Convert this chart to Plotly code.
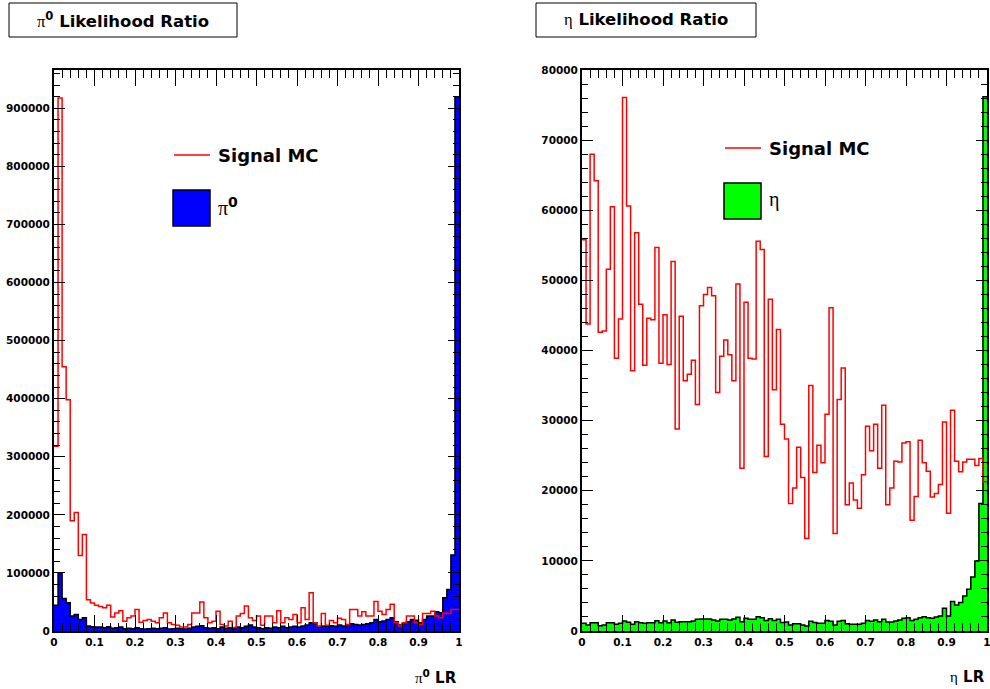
import numpy as np
import plotly.graph_objects as go

# 100 equal-width bins of the likelihood ratio, 0..1
bin_edges = np.linspace(0.0, 1.0, 101)

# pi0 likelihood ratio: signal MC (outline) and pi0 sample (filled)
signal_pi0 = [
    318000, 918000, 455000, 398000, 190000, 204000, 130000, 166000, 54000, 48000,
    44500, 42000, 40000, 44500, 24000, 31000, 35000, 17000, 23000, 26000,
    37000, 15000, 18000, 20000, 17000, 14000, 23000, 31000, 14000, 11000,
    10000, 7000, 7000, 11000, 31000, 31000, 50000, 23000, 14000, 17000,
    34000, 11000, 8500, 17000, 6000, 26000, 30000, 43000, 23000, 18000,
    26000, 10000, 26000, 26000, 14000, 35000, 14000, 23000, 20000, 28500,
    14000, 40000, 20000, 66000, 14000, 8500, 30000, 10000, 18000, 14000,
    22000, 20000, 11000, 37000, 37000, 26000, 33000, 26000, 26000, 51000,
    34000, 28500, 37000, 46000, 14000, 8500, 14000, 26000, 26000, 14000,
    11000, 30000, 30000, 34000, 26000, 23000, 31000, 30000, 37000, 37000,
]
pi0_sample = [
    44500, 100000, 56000, 48500, 26000, 28500, 20000, 23000, 8500, 7400,
    6900, 6900, 5700, 7400, 4600, 5700, 6900, 4000, 4600, 4000,
    5700, 4000, 3400, 4000, 4600, 4000, 4600, 5700, 3400, 4000,
    4600, 4000, 3400, 4600, 6900, 8000, 9100, 5700, 4600, 5700,
    4000, 6900, 4600, 5700, 4000, 6900, 5700, 8000, 10300, 6900,
    5700, 4000, 5700, 4600, 6900, 5700, 8000, 5700, 6900, 8000,
    6900, 8600, 10300, 14300, 12600, 6900, 8600, 8000, 9100, 8000,
    10300, 8600, 9100, 12600, 11400, 10300, 11400, 12600, 14300, 20000,
    16000, 17100, 20000, 22800, 16000, 10300, 12600, 16000, 20000, 18300,
    14300, 20000, 25700, 25700, 33100, 31400, 57100, 71400, 131000, 920000,
]

# eta likelihood ratio: signal MC (outline) and eta sample (filled)
signal_eta = [
    55800, 43800, 68000, 64200, 42600, 42800, 51600, 60500, 38900, 44500,
    76100, 60600, 37100, 56800, 46600, 37900, 44600, 44400, 54700, 38200,
    45100, 38000, 52700, 28800, 44900, 35700, 36600, 38600, 32300, 46400,
    48000, 49000, 47800, 34000, 39200, 41500, 39400, 35700, 49500, 23200,
    46900, 38900, 38800, 55600, 54400, 24900, 47300, 34400, 43000, 29500,
    27400, 18200, 20400, 26200, 21900, 13200, 35000, 22600, 26500, 24000,
    30900, 46100, 13900, 33000, 37500, 18000, 21100, 18700, 17500, 22300,
    29200, 25700, 29500, 23200, 32200, 18000, 20400, 24200, 24100, 26800,
    27000, 15800, 19200, 27200, 24000, 22800, 19100, 19600, 20900, 29800,
    16800, 31500, 24200, 22700, 24100, 24500, 24500, 23600, 24600, 21300,
]
eta_sample = [
    1095, 857, 1190, 1190, 762, 857, 1190, 1190, 952, 1095,
    1429, 1238, 952, 1333, 1190, 1095, 1190, 1190, 1476, 1190,
    1429, 1190, 1571, 1238, 1333, 1333, 1333, 1429, 1667, 1714,
    1714, 1714, 1571, 1429, 1667, 1667, 1571, 1714, 1952, 1333,
    1810, 1667, 1667, 2048, 1900, 1500, 1760, 1500, 1670, 1200,
    1300, 860, 1050, 1050, 860, 710, 1400, 1200, 1100, 1100,
    1500, 1400, 860, 1400, 1500, 1050, 950, 950, 950, 1100,
    1500, 1400, 1570, 1330, 1670, 1290, 1290, 1430, 1570, 1810,
    1900, 1500, 1670, 1900, 2050, 1900, 1810, 2000, 2140, 3240,
    2140, 4190, 3710, 4050, 5000, 5950, 7710, 10000, 18200, 76200,
]

W, H = 990, 689


def fx(p):
    """pixel column -> paper x"""
    return p / W


def fy(p):
    """pixel row -> paper y"""
    return 1 - p / H


def step(values, xa, ya, color, fill=None, width=1.5):
    y = list(values) + [values[-1]]
    return go.Scatter(
        x=bin_edges, y=y, mode="lines",
        line=dict(shape="hv", color=color, width=width),
        fill="tozeroy" if fill else "none", fillcolor=fill,
        xaxis=xa, yaxis=ya, showlegend=False, hoverinfo="skip",
    )


fig = go.Figure()
fig.add_trace(step(pi0_sample, "x", "y", "black", fill="#0000ff"))
fig.add_trace(step(signal_pi0, "x", "y", "#ff0000"))
fig.add_trace(step(eta_sample, "x2", "y2", "black", fill="#00ff00"))
fig.add_trace(step(signal_eta, "x2", "y2", "#ff0000"))

tick_font = dict(family="DejaVu Sans", size=10.5, color="black", weight="bold")
frame = dict(showline=True, linewidth=2, linecolor="black", mirror="ticks",
             showgrid=False, zeroline=False, ticks="inside", tickcolor="black",
             tickwidth=1, tickfont=tick_font, automargin=False,
             ticklabeloverflow="allow")


def xaxis(domain, anchor):
    return dict(domain=domain, anchor=anchor, range=[0, 1], tick0=0, dtick=0.1,
                ticklen=16,
                minor=dict(dtick=0.02, ticks="inside", ticklen=8,
                           tickcolor="black", tickwidth=1),
                **frame)


def yaxis(top, step_major, step_minor, anchor):
    return dict(domain=[fy(631), fy(70)], anchor=anchor, range=[0, top],
                tick0=0, dtick=step_major, tickformat="d", ticklen=11,
                minor=dict(dtick=step_minor, ticks="inside", ticklen=6,
                           tickcolor="black", tickwidth=1),
                **frame)


top_left = 1.05 * max(max(signal_pi0), max(pi0_sample))
top_right = 1.05 * max(max(signal_eta), max(eta_sample))

fig.update_layout(
    template="none",
    width=W, height=H,
    margin=dict(l=0, r=0, t=0, b=0, autoexpand=False),
    paper_bgcolor="white", plot_bgcolor="white",
    xaxis=xaxis([fx(54), fx(459)], "y"),
    yaxis=yaxis(top_left, 100000, 20000, "x"),
    xaxis2=xaxis([fx(582), fx(987)], "y2"),
    yaxis2=yaxis(top_right, 10000, 2000, "x2"),
)

SERIF = "font-family:'Liberation Serif';font-weight:normal"
PI = f"<span style=\"{SERIF}\">π</span>"
ETA = f"<span style=\"{SERIF}\">η</span>"
shapes = []
annotations = []

# pad titles in framed boxes
for (x0, x1, label) in [(9, 237, f"{PI}<sup>0</sup> Likelihood Ratio"),
                        (536, 756, f"{ETA} Likelihood Ratio")]:
    shapes.append(dict(type="rect", xref="paper", yref="paper",
                       x0=fx(x0), x1=fx(x1), y0=fy(37), y1=fy(3),
                       line=dict(color="black", width=1), fillcolor="white"))
    annotations.append(dict(xref="paper", yref="paper", x=fx((x0 + x1) / 2), y=fy(20),
                            text=label, showarrow=False, xanchor="center", yanchor="middle",
                            font=dict(family="DejaVu Sans", size=16.5, color="black",
                                      weight="bold")))

# legends
legend_font = dict(family="DejaVu Sans", size=18, color="black", weight="bold")
for (lx, ly_line, ly_box, fill, sym) in [
    (174, 155, 190, "#0000ff", f"{PI}<sup>0</sup>"),
    (725, 148, 183, "#00ff00", ETA),
]:
    shapes.append(dict(type="line", xref="paper", yref="paper",
                       x0=fx(lx), x1=fx(lx + 36), y0=fy(ly_line), y1=fy(ly_line),
                       line=dict(color="#ff0000", width=1.5)))
    annotations.append(dict(xref="paper", yref="paper", x=fx(lx + 42), y=fy(ly_line),
                            text="Signal MC", showarrow=False, xanchor="left",
                            yanchor="middle", font=legend_font))
    shapes.append(dict(type="rect", xref="paper", yref="paper",
                       x0=fx(lx - 1), x1=fx(lx + 36), y0=fy(ly_box + 36), y1=fy(ly_box),
                       line=dict(color="black", width=1.5), fillcolor=fill))
    annotations.append(dict(xref="paper", yref="paper", x=fx(lx + 42), y=fy(ly_box + 16),
                            text=sym, showarrow=False, xanchor="left", yanchor="middle",
                            font=dict(family="DejaVu Sans", size=20, color="black",
                                      weight="bold")))

# x-axis titles, right-aligned under each frame
for (xr, label) in [(459, f"{PI}<sup>0</sup> LR"), (987, f"{ETA} LR")]:
    annotations.append(dict(xref="paper", yref="paper", x=fx(xr), y=fy(677),
                            text=label, showarrow=False, xanchor="right", yanchor="middle",
                            font=dict(family="DejaVu Sans", size=15, color="black",
                                      weight="bold")))

fig.update_layout(shapes=shapes, annotations=annotations)
fig.write_html("out.html")
